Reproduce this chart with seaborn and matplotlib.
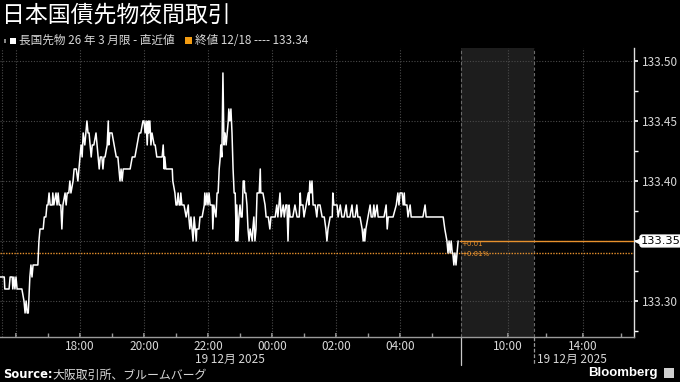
import matplotlib
matplotlib.use("Agg")
import matplotlib.pyplot as plt
import matplotlib.transforms as mtransforms
from matplotlib.lines import Line2D
from matplotlib.patches import Rectangle
import numpy as np
import pandas as pd
import seaborn as sns

# ---------------- data ----------------
# (minutes elapsed since 15:30 on 18 Dec, price)
trades = [
    (0, 133.32), (8, 133.32), (9, 133.31), (17, 133.31), (19, 133.32), (23, 133.32), (24, 133.31),
    (26, 133.32), (28, 133.31), (30, 133.32), (32, 133.31), (38, 133.31), (41, 133.31), (45, 133.30),
    (47, 133.29), (49, 133.30), (51, 133.29), (53, 133.29), (54, 133.30), (56, 133.32), (58, 133.33),
    (60, 133.32), (62, 133.33), (64, 133.33), (68, 133.33), (71, 133.33), (73, 133.35), (75, 133.36),
    (81, 133.36), (83, 133.37), (86, 133.37), (88, 133.38), (90, 133.38), (92, 133.39), (94, 133.38),
    (98, 133.38), (99, 133.39), (101, 133.38), (105, 133.39), (107, 133.38), (109, 133.39), (111, 133.38),
    (114, 133.38), (116, 133.36), (118, 133.38), (122, 133.39), (124, 133.38), (126, 133.39), (129, 133.39),
    (131, 133.40), (133, 133.39), (137, 133.40), (139, 133.41), (143, 133.41), (146, 133.40), (148, 133.41),
    (150, 133.42), (152, 133.43), (154, 133.42), (156, 133.44), (159, 133.43), (161, 133.44), (163, 133.45),
    (165, 133.44), (167, 133.44), (171, 133.42), (173, 133.43), (176, 133.43), (180, 133.44), (182, 133.43),
    (186, 133.41), (188, 133.42), (191, 133.42), (193, 133.41), (195, 133.42), (197, 133.42), (201, 133.43),
    (203, 133.45), (204, 133.43), (206, 133.44), (210, 133.44), (214, 133.43), (218, 133.42), (221, 133.42),
    (225, 133.40), (227, 133.41), (229, 133.40), (231, 133.41), (238, 133.41), (244, 133.41), (248, 133.42),
    (253, 133.42), (257, 133.43), (261, 133.44), (264, 133.44), (268, 133.45), (270, 133.45), (272, 133.44),
    (274, 133.45), (276, 133.43), (278, 133.45), (279, 133.44), (281, 133.45), (283, 133.43), (285, 133.44),
    (289, 133.43), (291, 133.43), (294, 133.42), (300, 133.42), (304, 133.42), (306, 133.43), (308, 133.41),
    (309, 133.42), (311, 133.41), (315, 133.41), (319, 133.41), (323, 133.41), (324, 133.40), (328, 133.39),
    (330, 133.38), (332, 133.38), (334, 133.39), (336, 133.38), (338, 133.38), (339, 133.39), (341, 133.38),
    (345, 133.38), (349, 133.37), (353, 133.38), (354, 133.37), (356, 133.36), (358, 133.37), (360, 133.36),
    (362, 133.35), (364, 133.37), (366, 133.36), (368, 133.35), (369, 133.36), (373, 133.36), (375, 133.37),
    (379, 133.37), (383, 133.38), (384, 133.39), (386, 133.38), (388, 133.39), (390, 133.38), (392, 133.39),
    (394, 133.38), (398, 133.38), (399, 133.36), (401, 133.38), (405, 133.37), (407, 133.39), (409, 133.39),
    (411, 133.41), (413, 133.42), (414, 133.43), (416, 133.42), (418, 133.49), (420, 133.43), (422, 133.44),
    (424, 133.43), (426, 133.44), (428, 133.45), (429, 133.46), (431, 133.45), (433, 133.46), (435, 133.44),
    (437, 133.41), (439, 133.39), (441, 133.39), (443, 133.35), (444, 133.38), (446, 133.35), (448, 133.37),
    (450, 133.38), (452, 133.37), (454, 133.37), (456, 133.40), (458, 133.40), (459, 133.39), (461, 133.39),
    (463, 133.38), (465, 133.36), (467, 133.35), (469, 133.36), (473, 133.35), (474, 133.36), (476, 133.37),
    (478, 133.35), (480, 133.36), (482, 133.39), (486, 133.39), (488, 133.41), (489, 133.39), (493, 133.39),
    (497, 133.38), (499, 133.37), (503, 133.37), (506, 133.36), (508, 133.37), (512, 133.37), (516, 133.37),
    (519, 133.38), (521, 133.37), (525, 133.39), (527, 133.37), (531, 133.38), (533, 133.37), (536, 133.38),
    (538, 133.38), (540, 133.35), (542, 133.38), (544, 133.37), (548, 133.37), (549, 133.37), (553, 133.38),
    (557, 133.37), (561, 133.37), (563, 133.39), (564, 133.38), (568, 133.38), (570, 133.37), (574, 133.38),
    (578, 133.39), (579, 133.38), (581, 133.40), (583, 133.39), (585, 133.40), (587, 133.38), (591, 133.38),
    (594, 133.37), (596, 133.38), (600, 133.38), (604, 133.37), (608, 133.37), (611, 133.36), (613, 133.35),
    (615, 133.36), (619, 133.37), (623, 133.37), (624, 133.39), (626, 133.38), (632, 133.38), (634, 133.37),
    (638, 133.38), (641, 133.37), (645, 133.37), (649, 133.38), (651, 133.37), (656, 133.37), (660, 133.38),
    (662, 133.37), (666, 133.37), (669, 133.38), (671, 133.37), (675, 133.37), (679, 133.36), (681, 133.35),
    (683, 133.36), (684, 133.35), (686, 133.36), (690, 133.37), (694, 133.38), (696, 133.37), (699, 133.37),
    (701, 133.38), (703, 133.37), (707, 133.38), (709, 133.37), (713, 133.37), (716, 133.37), (720, 133.37),
    (724, 133.38), (726, 133.36), (728, 133.37), (731, 133.37), (737, 133.37), (743, 133.38), (746, 133.39),
    (748, 133.38), (750, 133.39), (754, 133.39), (756, 133.38), (758, 133.39), (759, 133.38), (763, 133.38),
    (765, 133.37), (769, 133.38), (771, 133.37), (778, 133.37), (788, 133.37), (793, 133.37), (797, 133.38),
    (799, 133.37), (806, 133.37), (816, 133.37), (825, 133.37), (831, 133.37), (834, 133.36), (838, 133.35),
    (840, 133.34), (842, 133.35), (844, 133.34), (846, 133.35), (848, 133.34), (849, 133.34), (851, 133.33),
    (853, 133.34), (855, 133.33), (857, 133.34), (859, 133.35),
]
minutes = [t for t, _ in trades]
prices = [p for _, p in trades]

prev_close = 133.34
last_price = 133.35
change_labels = ["+0.01", "+0.01%"]

night_major = ["16:00", "18:00", "20:00", "22:00", "00:00", "02:00", "04:00"]
night_labels = ["", "18:00", "20:00", "22:00", "00:00", "02:00", "04:00"]
night_minor = ["17:00", "19:00", "21:00", "23:00", "01:00", "03:00", "05:00"]
day_major = ["10:00", "14:00"]
day_minor = ["12:00", "16:00"]
y_ticks = [133.30, 133.35, 133.40, 133.45, 133.50]

title = "日本国債先物夜間取引"
legend_main = "長国先物 26 年 3 月限 - 直近値"
legend_close = "終値 12/18 ---- 133.34"
date_label = "19 12月 2025"
source = "大阪取引所、ブルームバーグ"

# ---------------- layout helpers ----------------
def night_pos(t):
    h, m = map(int, t.split(":"))
    mins = (h * 60 + m - 930) % 1440
    return mins / 60.0

DAY_10 = 15.875
DAY_SCALE = 0.586

def day_pos(t):
    h, m = map(int, t.split(":"))
    return DAY_10 + (h + m / 60.0 - 10) * DAY_SCALE

X_MAX = 19.8125
BREAK_L = 14.41
BREAK_R = 16.69

df = pd.DataFrame({"pos": np.array(minutes) / 60.0, "price": prices})

# ---------------- style ----------------
sns.set_theme(style="dark")
plt.rcParams["font.family"] = ["Noto Sans CJK JP", "DejaVu Sans"]
plt.rcParams["axes.facecolor"] = "black"
plt.rcParams["figure.facecolor"] = "black"

ORANGE = "#e8912d"
GRID = "#4a4a4a"
TXT = "#d8d8d8"

fig = plt.figure(figsize=(6.8, 3.82), dpi=100, facecolor="black")
ax = fig.add_axes([0.0, 1 - 337 / 382, 634 / 680, (337 - 48) / 382])
ax.set_facecolor("black")

ax.axvspan(BREAK_L, BREAK_R, color="#1d1d1d", zorder=0, lw=0)

sns.lineplot(data=df, x="pos", y="price", color="white", lw=1.1,
             estimator=None, ax=ax, zorder=5)

ax.set_xlim(0, X_MAX)
ax.set_ylim(133.27, 133.5108)

# grid lines
for t in night_major:
    ax.axvline(night_pos(t), color=GRID, ls=(0, (1, 1.5)), lw=0.8, zorder=1)
for t in day_major:
    ax.axvline(day_pos(t), color=GRID, ls=(0, (1, 1.5)), lw=0.8, zorder=1)
ax.axvline(0.05, color=GRID, ls=(0, (1, 1.5)), lw=0.8, zorder=1)
for y in y_ticks:
    ax.axhline(y, color=GRID, ls=(0, (1, 1.5)), lw=0.8, zorder=1)

for xb in (BREAK_L, BREAK_R):
    ax.axvline(xb, color="#6a6a6a", ls=(0, (3, 2)), lw=0.8, zorder=2)

# reference lines
ax.axhline(prev_close, color=ORANGE, ls=(0, (1, 1)), lw=1.0, zorder=3)
ax.plot([BREAK_L - 0.03, X_MAX], [last_price, last_price], color=ORANGE, lw=1.0, zorder=3)
ax.text(BREAK_L + 0.02, last_price - 0.0022, change_labels[0], color=ORANGE,
        fontsize=5, va="center", ha="left", zorder=6, family=["DejaVu Sans"])
ax.text(BREAK_L + 0.02, prev_close - 0.0008, change_labels[1], color=ORANGE,
        fontsize=5, va="center", ha="left", zorder=6, family=["DejaVu Sans"])

# ticks
xt = [night_pos(t) for t in night_major] + [day_pos(t) for t in day_major]
xl = night_labels + day_major
ax.set_xticks(xt)
ax.set_xticklabels(xl)
ax.set_xticks([night_pos(t) for t in night_minor] + [day_pos(t) for t in day_minor], minor=True)
ax.tick_params(axis="x", which="both", direction="in", length=3, color="#9a9a9a",
               labelcolor=TXT, labelsize=8.5, pad=2.5, bottom=True)
ax.set_xlabel("")
ax.set_ylabel("")

ax.yaxis.tick_right()
ax.set_yticks(y_ticks)
ax.set_yticklabels(["" if abs(v - last_price) < 1e-9 else f"{v:.2f}" for v in y_ticks])
ax.set_yticks([133.275, 133.325, 133.375, 133.425, 133.475], minor=True)
ax.tick_params(axis="y", which="both", direction="out", length=3, color="white",
               labelcolor=TXT, labelsize=8.5, pad=3, right=True, left=False)
ax.grid(False)

for s in ("left", "top"):
    ax.spines[s].set_visible(False)
ax.spines["bottom"].set_color("#9a9a9a")
ax.spines["bottom"].set_linewidth(1.0)
ax.spines["right"].set_color("#e0e0e0")
ax.spines["right"].set_linewidth(1.0)

# last price box on the axis
trans = mtransforms.blended_transform_factory(ax.transAxes, ax.transData)
ax.text(1.011, last_price, "133.35", transform=trans, color="black", fontsize=8.2,
        va="center", ha="left", zorder=10, clip_on=False, family=["DejaVu Sans"],
        bbox=dict(boxstyle="round,pad=0.08,rounding_size=0.2", fc="white", ec="white"))
ax.plot([1.007], [last_price], marker="<", ms=5, color="white", transform=trans,
        clip_on=False, zorder=10, mec="white")

# session separators below axis
sep_h = (365 - 337) / (337 - 48)
xtrans = mtransforms.blended_transform_factory(ax.transData, ax.transAxes)
ax.add_line(Line2D([BREAK_L, BREAK_L], [0, -sep_h], transform=xtrans, color="#c8c8c8",
                   lw=0.9, clip_on=False))
ax.add_line(Line2D([BREAK_R, BREAK_R], [0, -sep_h], transform=xtrans, color="#9a9a9a",
                   lw=0.9, ls=(0, (3, 1.5)), clip_on=False))

fig.text(230 / 680, 1 - 359 / 382, date_label, color=TXT, fontsize=8.5, ha="center", va="center")
fig.text(537 / 680, 1 - 359 / 382, date_label, color=TXT, fontsize=8.5, ha="left", va="center")

# title and legend
fig.text(2 / 680, 1 - 15 / 382, title, color="white", fontsize=16.5, ha="left", va="center")
fig.patches.append(Rectangle((10 / 680, 1 - 44 / 382), 6 / 680, 6 / 382,
                             transform=fig.transFigure, fc="white", ec="none"))
fig.patches.append(Rectangle((4 / 680, 1 - 43 / 382), 2 / 680, 4 / 382,
                             transform=fig.transFigure, fc="#888", ec="none"))
fig.text(19 / 680, 1 - 40.5 / 382, legend_main, color=TXT, fontsize=8.4, ha="left", va="center")
fig.patches.append(Rectangle((185 / 680, 1 - 44 / 382), 7 / 680, 7 / 382,
                             transform=fig.transFigure, fc="#f39c12", ec="none"))
fig.text(195 / 680, 1 - 40.5 / 382, legend_close, color=TXT, fontsize=8.4, ha="left", va="center")

# footer
fig.text(3 / 680, 1 - 375 / 382, "Source:", color="white", fontsize=8.3, fontweight="bold",
         ha="left", va="center", family=["DejaVu Sans"])
fig.text(52 / 680, 1 - 375 / 382, source, color=TXT, fontsize=8.6, ha="left", va="center")
fig.text(658 / 680, 1 - 373 / 382, "Bloomberg", color="white", fontsize=9.5, fontweight="bold",
         ha="right", va="center", family=["Liberation Sans", "DejaVu Sans"])
fig.patches.append(Rectangle((664 / 680, 1 - 378 / 382), 10 / 680, 10 / 382,
                             transform=fig.transFigure, fc="#cfcfcf", ec="none"))

fig.savefig("out.png", dpi=100, facecolor="black")
